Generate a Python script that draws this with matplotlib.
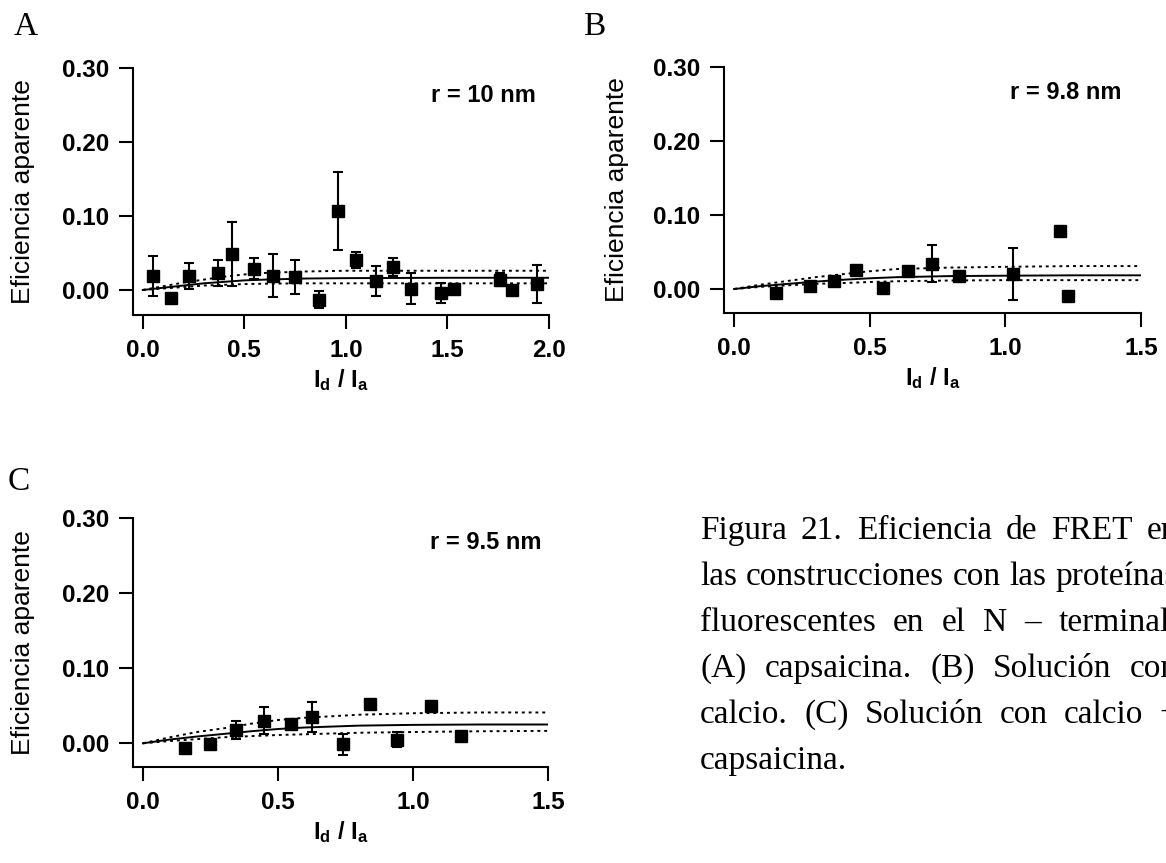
import matplotlib
matplotlib.use("Agg")
import matplotlib.pyplot as plt
from matplotlib.ticker import FormatStrFormatter

plt.rcParams["font.family"] = ["Liberation Sans", "DejaVu Sans"]
plt.rcParams["mathtext.fontset"] = "custom"
plt.rcParams["mathtext.rm"] = "Liberation Sans:bold"
plt.rcParams["mathtext.it"] = "Liberation Sans:bold"
plt.rcParams["mathtext.bf"] = "Liberation Sans:bold"
plt.rcParams["mathtext.default"] = "bf"

# panel A: capsaicina
a_x = [0.05, 0.14, 0.23, 0.37, 0.44, 0.55, 0.64, 0.75, 0.87, 0.96,
       1.05, 1.15, 1.23, 1.32, 1.47, 1.53, 1.76, 1.82, 1.94]
a_y = [0.019, -0.011, 0.019, 0.023, 0.049, 0.029, 0.019, 0.017, -0.013, 0.107,
       0.041, 0.012, 0.031, 0.002, -0.004, 0.002, 0.014, 0.000, 0.008]
a_err = [0.027, 0, 0.018, 0.018, 0.043, 0.014, 0.029, 0.023, 0.012, 0.053,
         0.011, 0.020, 0.012, 0.021, 0.013, 0, 0.009, 0, 0.026]
a_fit_x = [0, 0.1, 0.2, 0.3, 0.4, 0.5, 0.6, 0.8, 1.0, 1.5, 2.0]
a_fit = [0, 0.003, 0.006, 0.009, 0.011, 0.013, 0.014, 0.0155, 0.016, 0.0165, 0.0165]
a_fit_hi = [0, 0.005, 0.010, 0.014, 0.018, 0.021, 0.023, 0.025, 0.026, 0.026, 0.026]
a_fit_lo = [0, 0.002, 0.004, 0.006, 0.007, 0.008, 0.0085, 0.009, 0.009, 0.009, 0.009]

# panel B: solucion con calcio
b_x = [0.155, 0.28, 0.37, 0.45, 0.55, 0.64, 0.73, 0.83, 1.03, 1.20, 1.23]
b_y = [-0.006, 0.004, 0.011, 0.026, 0.002, 0.025, 0.034, 0.018, 0.020, 0.079, -0.009]
b_err = [0.004, 0, 0.004, 0, 0, 0, 0.025, 0.005, 0.035, 0, 0]
b_fit_x = [0, 0.1, 0.2, 0.3, 0.4, 0.5, 0.6, 0.8, 1.0, 1.25, 1.5]
b_fit = [0, 0.004, 0.007, 0.010, 0.0125, 0.0145, 0.016, 0.0175, 0.018, 0.0185, 0.0185]
b_fit_hi = [0, 0.006, 0.011, 0.016, 0.020, 0.024, 0.027, 0.029, 0.030, 0.031, 0.031]
b_fit_lo = [0, 0.003, 0.005, 0.007, 0.008, 0.0095, 0.0105, 0.0115, 0.012, 0.012, 0.012]

# panel C: calcio + capsaicina
c_x = [0.156, 0.25, 0.345, 0.45, 0.55, 0.625, 0.74, 0.84, 0.94, 1.065, 1.177]
c_y = [-0.006, -0.001, 0.018, 0.030, 0.025, 0.035, -0.001, 0.052, 0.005, 0.049, 0.010]
c_err = [0.004, 0, 0.012, 0.018, 0.004, 0.020, 0.014, 0, 0.010, 0, 0]
c_fit_x = [0, 0.1, 0.2, 0.3, 0.4, 0.5, 0.6, 0.8, 1.0, 1.25, 1.5]
c_fit = [0, 0.005, 0.009, 0.0125, 0.016, 0.019, 0.021, 0.0235, 0.0245, 0.025, 0.025]
c_fit_hi = [0, 0.008, 0.015, 0.020, 0.026, 0.031, 0.034, 0.038, 0.040, 0.041, 0.041]
c_fit_lo = [0, 0.003, 0.0055, 0.008, 0.0095, 0.011, 0.012, 0.014, 0.015, 0.016, 0.0165]

y_ticks = [0.0, 0.1, 0.2, 0.3]
caption = ["Figura 21. Eficiencia de FRET en",
           "las construcciones con las proteínas",
           "fluorescentes en el N – terminal.",
           "(A) capsaicina. (B) Solución con",
           "calcio. (C) Solución con calcio +",
           "capsaicina."]

W, H = 1166, 863
fig = plt.figure(figsize=(W / 100, H / 100), dpi=100)


def panel(rect, x, y, err, fx, f, fhi, flo, xlim, ylim, xticks, label, lx, ly, ylab_x):
    ax = fig.add_axes([rect[0] / W, 1 - rect[3] / H,
                       (rect[2] - rect[0]) / W, (rect[3] - rect[1]) / H])
    ax.plot(fx, f, color="black", lw=1.4, zorder=2)
    ax.plot(fx, fhi, color="black", lw=1.4, ls=(0, (1.5, 2)), zorder=2)
    ax.plot(fx, flo, color="black", lw=1.4, ls=(0, (1.5, 2)), zorder=2)
    ax.errorbar(x, y, yerr=err, fmt="s", color="black", ms=9, elinewidth=1.5,
                capsize=3.5, capthick=1.5, zorder=3)
    ax.set_xlim(*xlim)
    ax.set_ylim(*ylim)
    ax.set_xticks(xticks)
    ax.set_yticks(y_ticks)
    ax.xaxis.set_major_formatter(FormatStrFormatter("%.1f"))
    ax.yaxis.set_major_formatter(FormatStrFormatter("%.2f"))
    for s in ["top", "right"]:
        ax.spines[s].set_visible(False)
    for s in ["left", "bottom"]:
        ax.spines[s].set_linewidth(1.5)
    ax.tick_params(direction="out", length=10, width=1.5, labelsize=17.5, pad=7)
    for t in ax.get_xticklabels() + ax.get_yticklabels():
        t.set_fontweight("bold")
    ax.set_ylabel("Eficiencia aparente", fontsize=19)
    ax.yaxis.set_label_coords(ylab_x, 0.5)
    ax.yaxis.label.set_va("center")
    ax.set_xlabel(r"$I_d$ / $I_a$", fontsize=17, fontweight="bold")
    ax.xaxis.set_label_coords(0.5, -65 / (rect[3] - rect[1]))
    ax.xaxis.label.set_va("center")
    ax.text(lx, ly, label, fontsize=17, fontweight="bold", ha="left", va="center")
    return ax


panel((133, 68, 549, 315), a_x, a_y, a_err, a_fit_x, a_fit, a_fit_hi, a_fit_lo,
      (-0.048, 2.0), (-0.0338, 0.30), [0, 0.5, 1.0, 1.5, 2.0], "r = 10 nm",
      1.42, 0.2635, -0.264)
panel((724, 67, 1141, 313), b_x, b_y, b_err, b_fit_x, b_fit, b_fit_hi, b_fit_lo,
      (-0.037, 1.5), (-0.0324, 0.30), [0, 0.5, 1.0, 1.5], "r = 9.8 nm",
      1.018, 0.266, -0.257)
panel((133, 518, 548, 767), c_x, c_y, c_err, c_fit_x, c_fit, c_fit_hi, c_fit_lo,
      (-0.037, 1.5), (-0.0316, 0.30), [0, 0.5, 1.0, 1.5], "r = 9.5 nm",
      1.0625, 0.268, -0.265)

serif = ["Liberation Serif", "DejaVu Serif"]
fig.text(14 / W, 1 - 35 / H, "A", family=serif, fontsize=24, va="baseline")
fig.text(583 / W, 1 - 35 / H, "B", family=serif, fontsize=24, va="baseline")
fig.text(8 / W, 1 - 490 / H, "C", family=serif, fontsize=24, va="baseline")

# justified caption, clipped at the right border like the original page
renderer = fig.canvas.get_renderer()
x_left, x_right = 700, 1178
for i, line in enumerate(caption):
    yb = 1 - (539 + 46 * i) / H
    words = line.split(" ")
    texts = [fig.text(0, yb, w, family=serif, fontsize=24, va="baseline") for w in words]
    if i == len(caption) - 1:
        texts[0].set_x(x_left / W)
        continue
    widths = [t.get_window_extent(renderer).width for t in texts]
    gap = (x_right - x_left - sum(widths)) / (len(texts) - 1)
    xp = x_left
    for t, w in zip(texts, widths):
        t.set_x(xp / W)
        xp += w + gap

fig.savefig("out.png", dpi=100)
